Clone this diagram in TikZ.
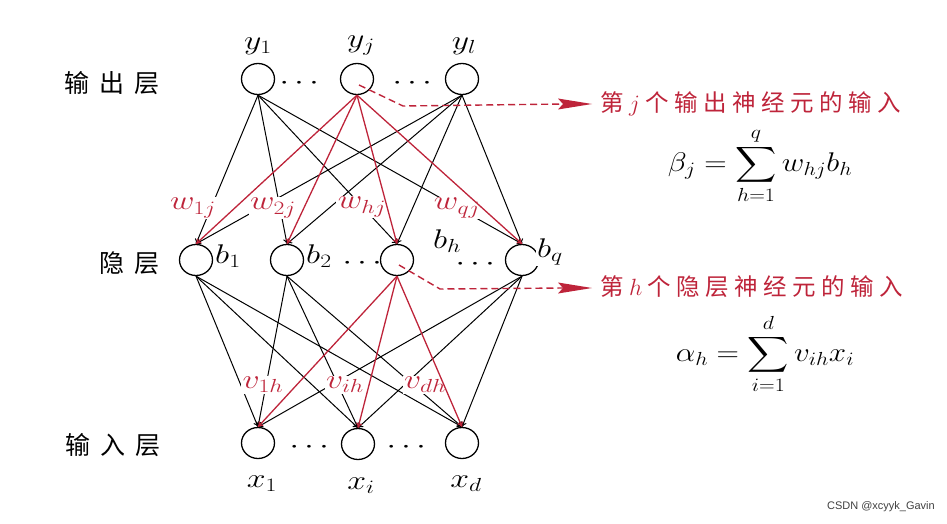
\RequirePackage{fix-cm}
\documentclass[tikz,border=0pt]{standalone}
\usepackage{amsmath}
\usepackage{fontspec}
\newfontfamily\cjk{Noto Sans CJK SC}
\newfontfamily\wmfont{Liberation Sans}
\usetikzlibrary{arrows.meta,calc,shapes.geometric}
\definecolor{myred}{RGB}{190,36,58}
\newcommand{\myhs}{\hspace{5.5pt}}
\newcommand{\lhs}{\hspace{10pt}}
\newcommand{\wide}[1]{\scalebox{1.25}[1]{#1}}
\begin{document}
\begin{tikzpicture}[x=1pt,y=-1pt,
  neuron/.style={ellipse,draw,line width=1.3pt,minimum width=33pt,minimum height=31pt,inner sep=0pt},
  conn/.style={line width=1pt,-{To[length=5pt,width=6pt]}},
  rconn/.style={conn,draw=myred,line width=1.3pt},
  mlbl/.style={font=\fontsize{27}{32}\selectfont,inner sep=0pt},
  wlbl/.style={mlbl,text=myred,fill=white,inner sep=1.5pt},
  blbl/.style={mlbl,fill=white,inner sep=1pt},
  layer/.style={font=\fontsize{25}{30}\selectfont\cjk,inner sep=0pt},
  note/.style={font=\fontsize{23.5}{28}\selectfont\cjk,text=myred,inner sep=0pt,anchor=west},
  formula/.style={font=\fontsize{27}{32}\selectfont,inner sep=0pt},
  dashline/.style={draw=myred,line width=1.4pt,dash pattern=on 7pt off 4pt}
]
\useasboundingbox (0,0) rectangle (947,524);

% neurons
\node[neuron] (y1) at (258,79) {};
\node[neuron] (yj) at (357,79) {};
\node[neuron] (yl) at (462,79) {};
\node[neuron] (b1) at (196,260) {};
\node[neuron] (b2) at (287,260) {};
\node[neuron] (bh) at (397,260) {};
\node[neuron] (bq) at (522,260) {};
\node[neuron] (x1) at (258,443) {};
\node[neuron] (xi) at (358,444) {};
\node[neuron] (xd) at (462,443) {};

% black connections
\foreach \u in {y1,yl}{
  \foreach \l in {b1,b2,bh,bq}{
    \draw[conn] (\u.south) -- (\l.north);
  }
}
\foreach \u in {b1,b2,bq}{
  \foreach \l in {x1,xi,xd}{
    \draw[conn] (\u.south) -- (\l.north);
  }
}

% weight labels (white background breaks the lines)
\node[wlbl] (w1) at (193,208) {\wide{$w_{1j}$}};
\node[wlbl] (w2) at (273,208) {\wide{$w_{2j}$}};
\node[wlbl] (wh) at (362,207) {\wide{$w_{hj}$}};
\node[wlbl] (wq) at (457,208) {\wide{$w_{qj}$}};
\node[wlbl] (v1) at (263,385) {\wide{$v_{1h}$}};
\node[wlbl] (vi) at (345,385) {\wide{$v_{ih}$}};
\node[wlbl] (vd) at (425,385) {\wide{$v_{dh}$}};

% red connections
\foreach \l in {b1,b2,bh,bq}{
  \draw[rconn] (yj.south) -- (\l.north);
}
\foreach \l in {x1,xi,xd}{
  \draw[rconn] (bh.south) -- (\l.north);
}

% neuron labels
\node[mlbl] (ly1) at (258,46) {\wide{$y_1$}};
\node[mlbl] (lyj) at (361,46) {\wide{$y_j$}};
\node[mlbl] (lyl) at (464,46) {\wide{$y_l$}};
\node[blbl] (lb1) at (228,256) {\wide{$b_1$}};
\node[blbl] (lb2) at (319,256) {\wide{$b_2$}};
\node[blbl] (lbh) at (447,241) {\wide{$b_h$}};
\node[blbl] (lbq) at (550,252) {\wide{$b_q$}};
\node[mlbl] (lx1) at (262,484) {\wide{$x_1$}};
\node[mlbl] (lxi) at (361,486) {\wide{$x_i$}};
\node[mlbl] (lxd) at (466,484) {\wide{$x_d$}};

% dots
\node[mlbl] (d1) at (302,84) {\wide{$\cdots$}};
\node[mlbl] (d2) at (415,84) {\wide{$\cdots$}};
\node[mlbl] (d3) at (365,263) {\wide{$\cdots$}};
\node[mlbl] (d4) at (478,264) {\wide{$\cdots$}};
\node[mlbl] (d5) at (312,447) {\wide{$\cdots$}};
\node[mlbl] (d6) at (409,447) {\wide{$\cdots$}};

% layer names
\node[layer] (Lout) at (112,83) {输\lhs 出\lhs 层};
\node[layer] (Lhid) at (129,263) {隐\lhs 层};
\node[layer] (Lin) at (113,445) {输\lhs 入\lhs 层};

% annotations
\coordinate (k1) at (403,106);
\coordinate (e1) at (592,104);
\coordinate (k2) at (440,289);
\coordinate (e2) at (592,288);
\draw[dashline] ($(yj.center)+(2,6)$) -- (k1) -- ($(e1)+(-28,0)$);
\fill[myred] (e1) -- ++(-34,-5.5) -- ++(5,5.5) -- ++(-5,5.5) -- cycle;
\draw[dashline] ($(bh.center)+(2,5)$) -- (k2) -- ($(e2)+(-28,0)$);
\fill[myred] (e2) -- ++(-34,-5.5) -- ++(5,5.5) -- ++(-5,5.5) -- cycle;

\node[note] (n1) at (600,104) {第\myhs$j$\myhs 个\myhs 输\myhs 出\myhs 神\myhs 经\myhs 元\myhs 的\myhs 输\myhs 入};
\node[note] (n2) at (600,287) {第\myhs$h$\myhs 个\myhs 隐\myhs 层\myhs 神\myhs 经\myhs 元\myhs 的\myhs 输\myhs 入};

\node[formula] (f1) at (760,166) {\scalebox{1.15}[1]{$\displaystyle \beta_j = \sum_{h=1}^{q} w_{hj} b_h$}};
\node[formula] (f2) at (765,354) {\scalebox{1.15}[1]{$\displaystyle \alpha_h = \sum_{i=1}^{d} v_{ih} x_i$}};

\node[font=\wmfont\fontsize{11}{13}\selectfont,text=black!75,anchor=east,inner sep=0pt] (wm) at (935,507) {CSDN @xcyyk\_Gavin};
\end{tikzpicture}
\end{document}
